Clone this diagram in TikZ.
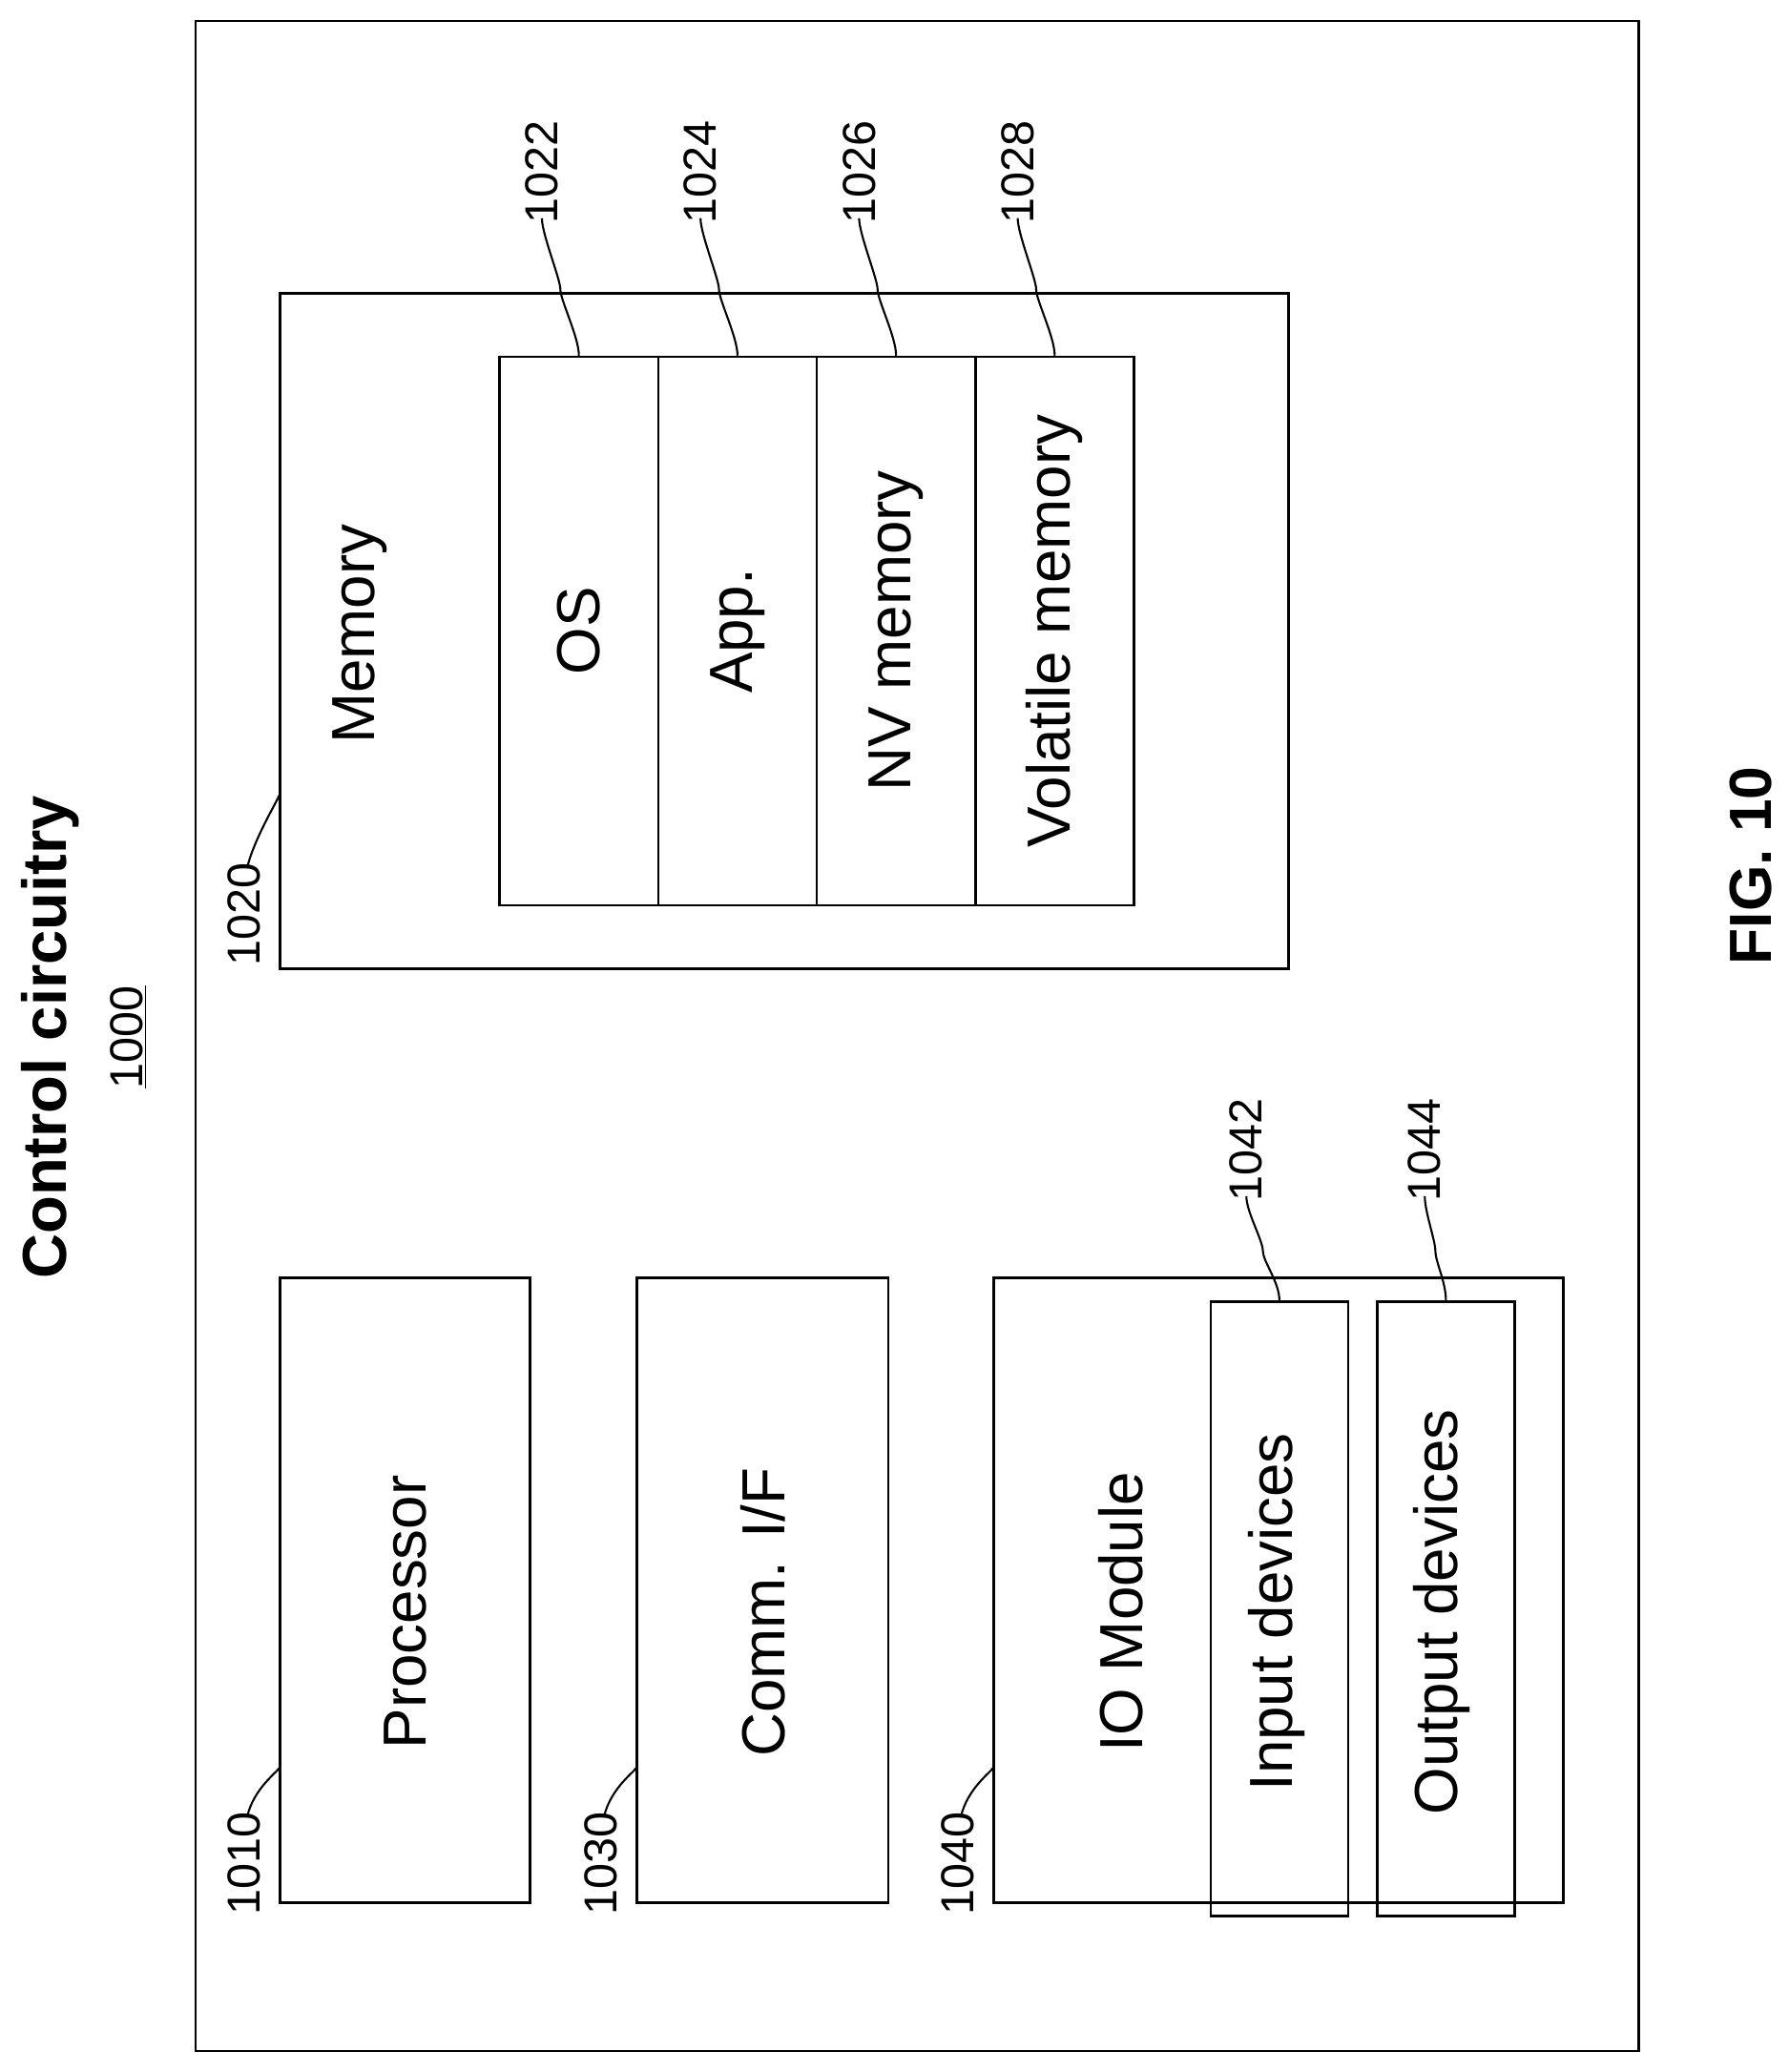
\documentclass[tikz,border=0pt]{standalone}
\usepackage{fontspec}
\usetikzlibrary{calc}
\setmainfont{Liberation Sans}
\begin{document}
\begin{tikzpicture}[x=1pt,y=-1pt,
  box/.style={draw,line width=1.8pt,inner sep=0pt},
  txt/.style={rotate=90,font=\fontsize{46}{50}\selectfont,inner sep=0pt},
  lbl/.style={rotate=90,font=\fontsize{35}{38}\selectfont,inner sep=0pt},
  lead/.style={line width=1.5pt}]
\useasboundingbox (0,0) rectangle (1353,1568);
\node[rotate=90,font=\fontsize{47}{50}\selectfont\bfseries] (title) at (38,785) {Control circuitry};
\node[lbl] (n1000) at (97,785) {\underline{1000}};
\node[box,minimum width=1092pt,minimum height=1536pt] (outer) at (694,784) {};
% processor
\node[box,minimum width=189pt,minimum height=473pt] (proc) at (306.5,1203.5) {};
\node[txt] (proct) at (307,1220) {Processor};
% comm
\node[box,minimum width=190pt,minimum height=473pt] (comm) at (577,1203.5) {};
\node[txt] (commt) at (577,1220) {Comm. I/F};
% IO
\node[box,minimum width=431pt,minimum height=473pt] (io) at (967.5,1203.5) {};
\node[txt] (iot) at (848,1220) {IO Module};
\node[box,minimum width=104pt,minimum height=465pt] (in) at (968,1217.5) {};
\node[txt] (int) at (966,1220) {Input devices};
\node[box,minimum width=104pt,minimum height=465pt] (out) at (1094,1217.5) {};
\node[txt] (outt) at (1091,1220) {Output devices};
% memory
\node[box,minimum width=763pt,minimum height=511pt] (mem) at (593.5,477.5) {};
\node[txt] (memt) at (272,480) {Memory};
\node[box,minimum width=120pt,minimum height=415pt] (os) at (438,477.5) {};
\node[box,minimum width=120pt,minimum height=415pt] (app) at (558,477.5) {};
\node[box,minimum width=120pt,minimum height=415pt] (nv) at (678,477.5) {};
\node[box,minimum width=120pt,minimum height=415pt] (vol) at (798,477.5) {};
\node[txt] at (os.center) {OS};
\node[txt] at (app.center) {App.};
\node[txt] at (nv.center) {NV memory};
\node[txt] at (vol.center) {Volatile memory};
% labels
\node[lbl] (l1010) at (185,1410) {1010};
\node[lbl] (l1030) at (455,1410) {1030};
\node[lbl] (l1040) at (725,1410) {1040};
\node[lbl] (l1020) at (185,692) {1020};
\node[lbl] (l1022) at (410,130) {1022};
\node[lbl] (l1024) at (530,130) {1024};
\node[lbl] (l1026) at (650,130) {1026};
\node[lbl] (l1028) at (770,130) {1028};
\node[lbl] (l1042) at (943,870) {1042};
\node[lbl] (l1044) at (1078,870) {1044};
% leaders
\foreach \l/\t/\y in {l1010/proc/1338,l1030/comm/1338,l1040/io/1338,l1020/mem/602}{
  \draw[lead] ([xshift=2pt,yshift=-4pt]\l.east) .. controls +(5,-22) and (\t.west |- 0,\y+2) .. ([yshift=-\y]\t.west |- 0,0);
}
\foreach \l/\t in {l1022/os,l1024/app,l1026/nv,l1028/vol,l1042/in,l1044/out}{
  \draw[lead] ([yshift=4pt]\l.west) .. controls +(0,12) and +(0,-8) .. ($(\l.west)!0.5!(\t.north)$) .. controls +(0,8) and +(0,-14) .. (\t.north);
}
\node[rotate=90,font=\fontsize{45}{48}\selectfont\bfseries] (fig) at (1325,655) {FIG. 10};
\end{tikzpicture}
\end{document}
